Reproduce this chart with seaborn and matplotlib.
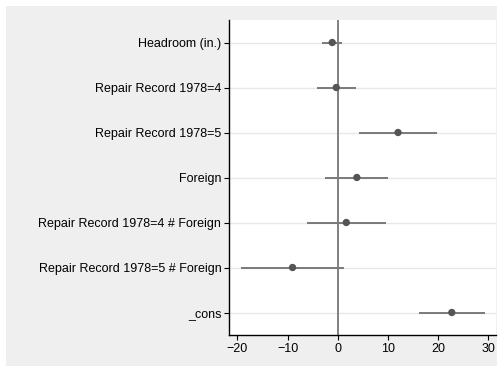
import matplotlib
matplotlib.use("Agg")
import matplotlib.pyplot as plt
from matplotlib.patches import Rectangle
import seaborn as sns
import pandas as pd

terms = ["Headroom (in.)", "Repair Record 1978=4", "Repair Record 1978=5", "Foreign",
         "Repair Record 1978=4 # Foreign", "Repair Record 1978=5 # Foreign", "_cons"]
coef = [-1.1, -0.3, 12.0, 3.8, 1.7, -9.0, 22.7]
ci_low = [-3.1, -4.2, 4.3, -2.5, -6.2, -19.3, 16.1]
ci_high = [0.9, 3.7, 19.7, 10.1, 9.6, 1.3, 29.4]
xticks = [-20, -10, 0, 10, 20, 30]

df = pd.DataFrame({"term": terms, "coef": coef, "lo": ci_low, "hi": ci_high})

sns.set_theme(style="white")
plt.rcParams['font.family'] = ['Liberation Sans', 'DejaVu Sans']

W, H = 499, 367
fig = plt.figure(figsize=(W / 100, H / 100), dpi=100)
fig.patch.set_facecolor("white")
bg = Rectangle((6 / W, 1 - 366 / H), (497 - 6) / W, (366 - 6) / H,
               transform=fig.transFigure, facecolor="#efefef",
               edgecolor="none", zorder=-10)
fig.patches.append(bg)
ax = fig.add_axes([229 / W, 1 - 335 / H, (496 - 229) / W, (335 - 20) / H])
ax.set_zorder(1)
ax.set_facecolor("white")

ax.hlines(df["term"], df["lo"], df["hi"], color="#7a7a7a", lw=1.4, zorder=3)
sns.scatterplot(data=df, x="coef", y="term", ax=ax, color="#555555", s=28,
                edgecolor="none", zorder=4)
ax.axvline(0, color="#808080", lw=1.4, zorder=2)

ax.set_ylim(6.5, -0.5)
ax.set_xlim(-21.65, 31.5)
ax.set_xticks(xticks)
ax.set_xticklabels([str(t).replace("-", "\u2212") for t in xticks])
ax.grid(axis="y", color="#e8e8e8", lw=1.0, zorder=0)
ax.grid(axis="x", visible=False)
ax.set_axisbelow(True)
ax.set_xlabel("")
ax.set_ylabel("")

for s in ["top", "right"]:
    ax.spines[s].set_visible(False)
for s in ["left", "bottom"]:
    ax.spines[s].set_color("black")
    ax.spines[s].set_linewidth(1.0)
ax.tick_params(axis="both", which="both", direction="out", length=3.5, width=0.8,
               color="black", labelsize=9, labelcolor="black", pad=2,
               left=True, bottom=True)

fig.savefig("out.png", dpi=100, facecolor=fig.get_facecolor())
